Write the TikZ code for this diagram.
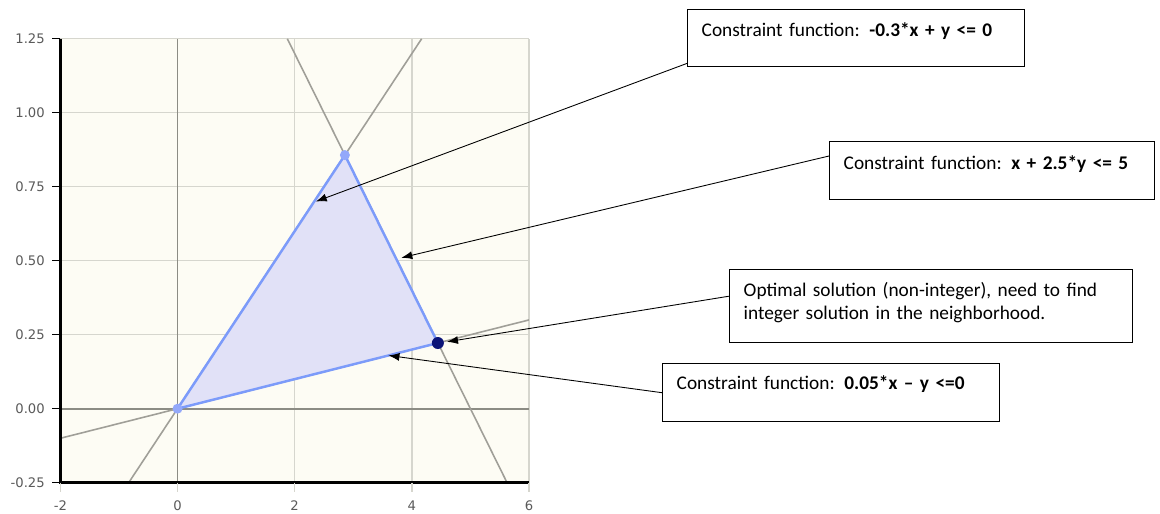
\documentclass[tikz,border=0pt]{standalone}
\usepackage{fontspec}
\setmainfont{Carlito}
\newfontfamily\tickfont{DejaVu Sans}
\usetikzlibrary{arrows.meta}

\definecolor{plotbg}{HTML}{FDFCF4}
\definecolor{gridgray}{HTML}{D6D6CE}
\definecolor{zerogray}{HTML}{8C8C84}
\definecolor{linegray}{HTML}{A09F98}
\definecolor{edgeblue}{HTML}{7C9BFA}
\definecolor{regionfill}{HTML}{E1E1F7}
\definecolor{vertexblue}{HTML}{93A8FA}
\definecolor{optblue}{HTML}{0B1478}
\definecolor{labelgray}{HTML}{5A5A5A}

\begin{document}
\begin{tikzpicture}[x=0.02cm, y=-0.02cm,
  gridline/.style={gridgray, line width=0.8pt},
  zeroline/.style={zerogray, line width=1pt},
  cline/.style={linegray, line width=0.9pt},
  feasible/.style={draw=edgeblue, fill=regionfill, line width=1.4pt, line join=round},
  vertex/.style={circle, fill=vertexblue, inner sep=0pt, minimum size=0.2cm},
  optimum/.style={circle, fill=optblue, inner sep=0pt, minimum size=0.24cm},
  ylab/.style={anchor=east, inner sep=0pt, labelgray, font=\tickfont\fontsize{7.5}{9}\selectfont},
  xlab/.style={inner sep=0pt, labelgray, font=\tickfont\fontsize{7.5}{9}\selectfont},
  cbox/.style={draw, line width=0.8pt, anchor=north west, align=left, inner xsep=0.28cm, inner ysep=0pt,
    font=\fontsize{11}{12.9}\selectfont},
  callout/.style={line width=0.5pt, -{Latex[length=0.22cm,width=0.16cm]}}]

\useasboundingbox (0,0) rectangle (1160,514);
\fill[white] (0,0) rectangle (1160,514);

% Plot in data coordinates
\begin{scope}[shift={(177.5,408.7)}, x=1.172cm, y=5.92cm]
  \fill[plotbg] (-2,-0.25) rectangle (6,1.25);

  % Grid
  \foreach \gx in {-2,2,4,6}
    \draw[gridline] (\gx,-0.25) -- (\gx,1.25);
  \foreach \gy in {0.25,0.5,0.75,1,1.25}
    \draw[gridline] (-2,\gy) -- (6,\gy);
  \draw[zeroline] (0,-0.25) -- (0,1.25);
  \draw[zeroline] (-2,0) -- (6,0);

  % Constraint lines
  \draw[cline] (-0.833,-0.25) -- (4.167,1.25);
  \draw[cline] (1.875,1.25) -- (5.625,-0.25);
  \draw[cline] (-2,-0.1) -- (6,0.3);

  % Feasible region
  \filldraw[feasible] (0,0) -- (2.857,0.857) -- (4.444,0.222) -- cycle;
  \node[vertex] (v0) at (0,0) {};
  \node[vertex] (v1) at (2.857,0.857) {};
  \node[optimum] (opt) at (4.444,0.222) {};

  % Axes, ticks and labels
  \draw[line width=1.5pt] (-2,1.25) -- (-2,-0.25) -- (6,-0.25);
  \foreach \gy/\lab [count=\i] in {-0.25/-0.25,0/0.00,0.25/0.25,0.5/0.50,0.75/0.75,1/1.00,1.25/1.25} {
    \draw[line width=0.8pt] (-2,\gy) -- (-2.15,\gy);
    \node[ylab] (ytick\i) at (-2.26,\gy) {\lab};
  }
  \foreach \gx [count=\i] in {-2,0,2,4,6} {
    \draw[gridgray, line width=0.8pt] (\gx,-0.25) -- (\gx,-0.28);
    \node[xlab] (xtick\i) at (\gx,-0.329) {\gx};
  }

  % Arrow targets
  \coordinate (tip1) at (2.36,0.70);
  \coordinate (tip2) at (3.82,0.51);
  \coordinate (tip3) at (4.60,0.226);
  \coordinate (tip4) at (3.60,0.18);
\end{scope}

% Callout boxes
\node[cbox, text width=6.18cm, text height=0.54cm, text depth=0.6cm] (c1) at (687,9)
  {Constraint function: \textbf{-0.3*x + y <= 0}};
\node[cbox, text width=5.94cm, text height=0.56cm, text depth=0.6cm] (c2) at (829,141)
  {Constraint function: \textbf{x + 2.5*y <= 5}};
\node[cbox, text width=7.5cm, text height=0.54cm, text depth=0.92cm] (c3) at (729,269)
  {Optimal solution (non-integer), need to find\\integer solution in the neighborhood.};
\node[cbox, text width=6.18cm, text height=0.52cm, text depth=0.64cm] (c4) at (662,363)
  {Constraint function: \textbf{0.05*x -- y <=0}};

% Connectors
\draw[callout] ([yshift=0.08cm]c1.south west) -- (tip1);
\draw[callout] ([yshift=-0.3cm]c2.north west) -- (tip2);
\draw[callout] ([yshift=0.2cm]c3.west) -- (tip3);
\draw[callout] (c4.west) -- (tip4);
\end{tikzpicture}
\end{document}
